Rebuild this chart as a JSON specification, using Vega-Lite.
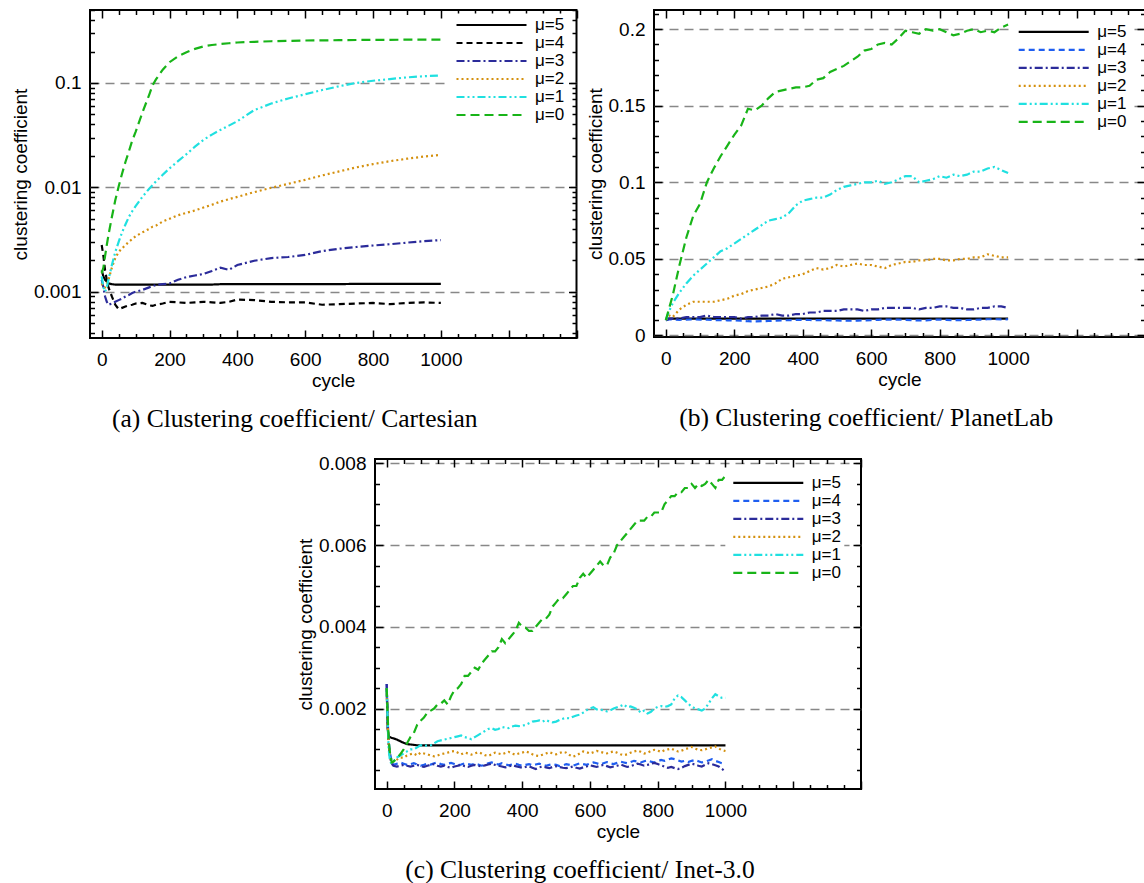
{
  "$schema": "https://vega.github.io/schema/vega-lite/v6.json",
  "padding": {"left": 10, "top": 0, "right": 0, "bottom": 0},
  "datasets": {
    "a": [
      {"c":0,"m5":0.0016,"m4":0.0028,"m3":0.0013,"m2":0.0012,"m1":0.0014,"m0":0.0015},
      {"c":5,"m5":0.0014,"m4":0.0022,"m3":0.0011,"m2":0.0011,"m1":0.0011,"m0":0.0017},
      {"c":10,"m5":0.0013,"m4":0.0016,"m3":0.0009,"m2":0.0011,"m1":0.001,"m0":0.0022},
      {"c":15,"m5":0.00125,"m4":0.0013,"m3":0.0008,"m2":0.0012,"m1":0.0011,"m0":0.0028},
      {"c":20,"m5":0.0012,"m4":0.0011,"m3":0.00075,"m2":0.0013,"m1":0.0013,"m0":0.0035},
      {"c":30,"m5":0.00118,"m4":0.0009,"m3":0.00077,"m2":0.0017,"m1":0.0018,"m0":0.0052},
      {"c":40,"m5":0.00117,"m4":0.00075,"m3":0.0008,"m2":0.0021,"m1":0.0024,"m0":0.0075},
      {"c":50,"m5":0.00117,"m4":0.00068,"m3":0.00083,"m2":0.0024,"m1":0.003,"m0":0.0102},
      {"c":60,"m5":0.00117,"m4":0.0007,"m3":0.00086,"m2":0.0026,"m1":0.0037,"m0":0.0135},
      {"c":70,"m5":0.00117,"m4":0.00072,"m3":0.0009,"m2":0.0028,"m1":0.0044,"m0":0.0175},
      {"c":80,"m5":0.00117,"m4":0.00074,"m3":0.00093,"m2":0.003,"m1":0.0052,"m0":0.022},
      {"c":90,"m5":0.00117,"m4":0.00075,"m3":0.00097,"m2":0.0032,"m1":0.0059,"m0":0.028},
      {"c":100,"m5":0.00117,"m4":0.00077,"m3":0.001,"m2":0.0034,"m1":0.0066,"m0":0.034},
      {"c":120,"m5":0.00117,"m4":0.00078,"m3":0.00104,"m2":0.0037,"m1":0.0081,"m0":0.052},
      {"c":140,"m5":0.00117,"m4":0.00074,"m3":0.0011,"m2":0.004,"m1":0.0097,"m0":0.077},
      {"c":150,"m5":0.00117,"m4":0.00073,"m3":0.00113,"m2":0.0042,"m1":0.0105,"m0":0.095},
      {"c":160,"m5":0.00117,"m4":0.00075,"m3":0.00116,"m2":0.0043,"m1":0.0114,"m0":0.108},
      {"c":180,"m5":0.00117,"m4":0.00077,"m3":0.00118,"m2":0.0047,"m1":0.0132,"m0":0.134},
      {"c":200,"m5":0.00117,"m4":0.0008,"m3":0.0012,"m2":0.005,"m1":0.0152,"m0":0.158},
      {"c":225,"m5":0.00117,"m4":0.00079,"m3":0.0013,"m2":0.0054,"m1":0.0178,"m0":0.18},
      {"c":250,"m5":0.00117,"m4":0.00078,"m3":0.00138,"m2":0.0057,"m1":0.0208,"m0":0.197},
      {"c":275,"m5":0.00117,"m4":0.00079,"m3":0.00143,"m2":0.006,"m1":0.0245,"m0":0.212},
      {"c":300,"m5":0.00117,"m4":0.0008,"m3":0.00148,"m2":0.0064,"m1":0.0285,"m0":0.224},
      {"c":325,"m5":0.00117,"m4":0.00079,"m3":0.00158,"m2":0.0068,"m1":0.032,"m0":0.231},
      {"c":350,"m5":0.00118,"m4":0.00078,"m3":0.0017,"m2":0.0073,"m1":0.0355,"m0":0.236},
      {"c":375,"m5":0.00118,"m4":0.0008,"m3":0.00162,"m2":0.0077,"m1":0.039,"m0":0.24},
      {"c":400,"m5":0.00118,"m4":0.00084,"m3":0.0018,"m2":0.0081,"m1":0.043,"m0":0.244},
      {"c":450,"m5":0.00118,"m4":0.00083,"m3":0.00198,"m2":0.009,"m1":0.055,"m0":0.248},
      {"c":500,"m5":0.00118,"m4":0.0008,"m3":0.0021,"m2":0.0099,"m1":0.0635,"m0":0.251},
      {"c":550,"m5":0.00118,"m4":0.00079,"m3":0.00215,"m2":0.0108,"m1":0.071,"m0":0.253},
      {"c":600,"m5":0.00118,"m4":0.00079,"m3":0.00225,"m2":0.0118,"m1":0.078,"m0":0.255},
      {"c":650,"m5":0.00118,"m4":0.00075,"m3":0.00245,"m2":0.013,"m1":0.0855,"m0":0.256},
      {"c":700,"m5":0.00118,"m4":0.00076,"m3":0.00258,"m2":0.0142,"m1":0.093,"m0":0.257},
      {"c":750,"m5":0.00119,"m4":0.00077,"m3":0.00268,"m2":0.0155,"m1":0.1,"m0":0.258},
      {"c":800,"m5":0.00119,"m4":0.00078,"m3":0.00277,"m2":0.0167,"m1":0.105,"m0":0.259},
      {"c":850,"m5":0.00119,"m4":0.00076,"m3":0.00285,"m2":0.0178,"m1":0.109,"m0":0.259},
      {"c":900,"m5":0.00119,"m4":0.00078,"m3":0.00295,"m2":0.0188,"m1":0.113,"m0":0.26},
      {"c":950,"m5":0.00119,"m4":0.00079,"m3":0.00305,"m2":0.0197,"m1":0.116,"m0":0.26},
      {"c":1000,"m5":0.00119,"m4":0.00078,"m3":0.00312,"m2":0.0205,"m1":0.118,"m0":0.26}
    ],
    "b": [
      {"c":0,"m5":0.011,"m4":0.010,"m3":0.010,"m2":0.010,"m1":0.010,"m0":0.010},
      {"c":10,"m5":0.011,"m4":0.0105,"m3":0.011,"m2":0.013,"m1":0.016,"m0":0.018},
      {"c":20,"m5":0.011,"m4":0.0105,"m3":0.011,"m2":0.012,"m1":0.021,"m0":0.026},
      {"c":40,"m5":0.011,"m4":0.0102,"m3":0.011,"m2":0.017,"m1":0.028,"m0":0.046},
      {"c":60,"m5":0.011,"m4":0.0104,"m3":0.012,"m2":0.020,"m1":0.034,"m0":0.064},
      {"c":80,"m5":0.011,"m4":0.0106,"m3":0.012,"m2":0.022,"m1":0.039,"m0":0.078},
      {"c":100,"m5":0.011,"m4":0.0104,"m3":0.012,"m2":0.022,"m1":0.043,"m0":0.086},
      {"c":120,"m5":0.011,"m4":0.0103,"m3":0.013,"m2":0.022,"m1":0.047,"m0":0.100},
      {"c":140,"m5":0.011,"m4":0.0101,"m3":0.012,"m2":0.022,"m1":0.051,"m0":0.109},
      {"c":160,"m5":0.011,"m4":0.0100,"m3":0.012,"m2":0.023,"m1":0.055,"m0":0.117},
      {"c":180,"m5":0.011,"m4":0.0099,"m3":0.012,"m2":0.024,"m1":0.057,"m0":0.124},
      {"c":200,"m5":0.011,"m4":0.0098,"m3":0.012,"m2":0.026,"m1":0.060,"m0":0.131},
      {"c":220,"m5":0.011,"m4":0.0096,"m3":0.011,"m2":0.027,"m1":0.063,"m0":0.137},
      {"c":240,"m5":0.011,"m4":0.0093,"m3":0.012,"m2":0.029,"m1":0.066,"m0":0.148},
      {"c":260,"m5":0.011,"m4":0.0092,"m3":0.012,"m2":0.030,"m1":0.069,"m0":0.147},
      {"c":280,"m5":0.011,"m4":0.0093,"m3":0.013,"m2":0.031,"m1":0.072,"m0":0.150},
      {"c":300,"m5":0.011,"m4":0.0095,"m3":0.013,"m2":0.032,"m1":0.075,"m0":0.155},
      {"c":320,"m5":0.011,"m4":0.0097,"m3":0.014,"m2":0.034,"m1":0.076,"m0":0.159},
      {"c":340,"m5":0.011,"m4":0.0099,"m3":0.013,"m2":0.037,"m1":0.077,"m0":0.160},
      {"c":360,"m5":0.011,"m4":0.0100,"m3":0.013,"m2":0.038,"m1":0.080,"m0":0.161},
      {"c":380,"m5":0.011,"m4":0.0102,"m3":0.014,"m2":0.039,"m1":0.085,"m0":0.162},
      {"c":400,"m5":0.011,"m4":0.0102,"m3":0.014,"m2":0.040,"m1":0.088,"m0":0.162},
      {"c":420,"m5":0.011,"m4":0.0101,"m3":0.015,"m2":0.042,"m1":0.089,"m0":0.163},
      {"c":440,"m5":0.011,"m4":0.0100,"m3":0.015,"m2":0.044,"m1":0.090,"m0":0.167},
      {"c":460,"m5":0.011,"m4":0.0100,"m3":0.016,"m2":0.043,"m1":0.090,"m0":0.168},
      {"c":480,"m5":0.011,"m4":0.0099,"m3":0.016,"m2":0.044,"m1":0.092,"m0":0.172},
      {"c":500,"m5":0.011,"m4":0.0098,"m3":0.016,"m2":0.046,"m1":0.095,"m0":0.174},
      {"c":520,"m5":0.011,"m4":0.0097,"m3":0.017,"m2":0.045,"m1":0.097,"m0":0.176},
      {"c":540,"m5":0.011,"m4":0.0096,"m3":0.017,"m2":0.046,"m1":0.098,"m0":0.179},
      {"c":560,"m5":0.011,"m4":0.0097,"m3":0.017,"m2":0.047,"m1":0.099,"m0":0.182},
      {"c":580,"m5":0.011,"m4":0.0099,"m3":0.016,"m2":0.046,"m1":0.100,"m0":0.186},
      {"c":600,"m5":0.011,"m4":0.0100,"m3":0.017,"m2":0.046,"m1":0.100,"m0":0.187},
      {"c":620,"m5":0.011,"m4":0.0102,"m3":0.017,"m2":0.045,"m1":0.101,"m0":0.190},
      {"c":640,"m5":0.011,"m4":0.0104,"m3":0.018,"m2":0.044,"m1":0.099,"m0":0.191},
      {"c":660,"m5":0.011,"m4":0.0104,"m3":0.018,"m2":0.046,"m1":0.100,"m0":0.190},
      {"c":680,"m5":0.011,"m4":0.0103,"m3":0.018,"m2":0.047,"m1":0.102,"m0":0.194},
      {"c":700,"m5":0.011,"m4":0.0102,"m3":0.018,"m2":0.048,"m1":0.104,"m0":0.199},
      {"c":720,"m5":0.011,"m4":0.0100,"m3":0.018,"m2":0.048,"m1":0.104,"m0":0.198},
      {"c":740,"m5":0.011,"m4":0.0098,"m3":0.017,"m2":0.049,"m1":0.100,"m0":0.197},
      {"c":760,"m5":0.011,"m4":0.0099,"m3":0.018,"m2":0.049,"m1":0.101,"m0":0.200},
      {"c":780,"m5":0.011,"m4":0.0102,"m3":0.018,"m2":0.050,"m1":0.102,"m0":0.199},
      {"c":800,"m5":0.011,"m4":0.0104,"m3":0.019,"m2":0.050,"m1":0.104,"m0":0.200},
      {"c":820,"m5":0.011,"m4":0.0102,"m3":0.019,"m2":0.049,"m1":0.103,"m0":0.198},
      {"c":840,"m5":0.011,"m4":0.0100,"m3":0.018,"m2":0.049,"m1":0.105,"m0":0.196},
      {"c":860,"m5":0.011,"m4":0.0100,"m3":0.018,"m2":0.050,"m1":0.104,"m0":0.197},
      {"c":880,"m5":0.011,"m4":0.0101,"m3":0.017,"m2":0.050,"m1":0.105,"m0":0.199},
      {"c":900,"m5":0.011,"m4":0.0102,"m3":0.017,"m2":0.051,"m1":0.107,"m0":0.200},
      {"c":920,"m5":0.011,"m4":0.0104,"m3":0.018,"m2":0.051,"m1":0.107,"m0":0.198},
      {"c":940,"m5":0.011,"m4":0.0106,"m3":0.018,"m2":0.053,"m1":0.109,"m0":0.199},
      {"c":960,"m5":0.011,"m4":0.0106,"m3":0.019,"m2":0.052,"m1":0.110,"m0":0.198},
      {"c":980,"m5":0.011,"m4":0.0105,"m3":0.019,"m2":0.051,"m1":0.108,"m0":0.201},
      {"c":1000,"m5":0.011,"m4":0.0106,"m3":0.018,"m2":0.051,"m1":0.106,"m0":0.203}
    ],
    "c": [
      {"c":0,"m5":0.0025,"m4":0.0026,"m3":0.0026,"m2":0.0025,"m1":0.0025,"m0":0.0025},
      {"c":3,"m5":0.0015,"m4":0.0017,"m3":0.0016,"m2":0.0016,"m1":0.0016,"m0":0.0018},
      {"c":6,"m5":0.00132,"m4":0.0012,"m3":0.0011,"m2":0.0011,"m1":0.001,"m0":0.0012},
      {"c":10,"m5":0.0013,"m4":0.0009,"m3":0.0008,"m2":0.0008,"m1":0.0007,"m0":0.0009},
      {"c":15,"m5":0.00128,"m4":0.0007,"m3":0.00065,"m2":0.00068,"m1":0.00065,"m0":0.00068},
      {"c":20,"m5":0.00127,"m4":0.00062,"m3":0.0006,"m2":0.0007,"m1":0.0007,"m0":0.0007},
      {"c":30,"m5":0.00124,"m4":0.00065,"m3":0.00058,"m2":0.00075,"m1":0.0008,"m0":0.00078},
      {"c":40,"m5":0.0012,"m4":0.00068,"m3":0.0006,"m2":0.0008,"m1":0.00085,"m0":0.00088},
      {"c":50,"m5":0.00116,"m4":0.00065,"m3":0.00062,"m2":0.0008,"m1":0.0009,"m0":0.001},
      {"c":60,"m5":0.00113,"m4":0.00062,"m3":0.0006,"m2":0.00085,"m1":0.00095,"m0":0.00115},
      {"c":70,"m5":0.00112,"m4":0.00064,"m3":0.00058,"m2":0.00088,"m1":0.001,"m0":0.0013},
      {"c":80,"m5":0.00111,"m4":0.00066,"m3":0.0006,"m2":0.0009,"m1":0.001,"m0":0.0014},
      {"c":90,"m5":0.0011,"m4":0.00063,"m3":0.00062,"m2":0.00085,"m1":0.00105,"m0":0.0016},
      {"c":100,"m5":0.0011,"m4":0.0006,"m3":0.00059,"m2":0.00092,"m1":0.0011,"m0":0.0017},
      {"c":110,"m5":0.0011,"m4":0.00062,"m3":0.00057,"m2":0.0009,"m1":0.00108,"m0":0.00178},
      {"c":120,"m5":0.0011,"m4":0.00065,"m3":0.0006,"m2":0.00088,"m1":0.0011,"m0":0.0019},
      {"c":130,"m5":0.0011,"m4":0.00063,"m3":0.00062,"m2":0.00085,"m1":0.0011,"m0":0.00195},
      {"c":140,"m5":0.0011,"m4":0.00066,"m3":0.00064,"m2":0.00083,"m1":0.00115,"m0":0.002},
      {"c":150,"m5":0.0011,"m4":0.00068,"m3":0.0006,"m2":0.00085,"m1":0.0012,"m0":0.0021},
      {"c":160,"m5":0.0011,"m4":0.00064,"m3":0.00058,"m2":0.00088,"m1":0.00122,"m0":0.00212},
      {"c":170,"m5":0.0011,"m4":0.00062,"m3":0.0006,"m2":0.0009,"m1":0.00124,"m0":0.0022},
      {"c":180,"m5":0.0011,"m4":0.00065,"m3":0.00057,"m2":0.00092,"m1":0.00126,"m0":0.0021},
      {"c":190,"m5":0.0011,"m4":0.00067,"m3":0.00055,"m2":0.00095,"m1":0.00128,"m0":0.0023},
      {"c":200,"m5":0.0011,"m4":0.00064,"m3":0.00058,"m2":0.00096,"m1":0.0013,"m0":0.00245},
      {"c":210,"m5":0.0011,"m4":0.00061,"m3":0.0006,"m2":0.00092,"m1":0.00132,"m0":0.0025},
      {"c":220,"m5":0.0011,"m4":0.00063,"m3":0.00062,"m2":0.00088,"m1":0.00134,"m0":0.0026},
      {"c":230,"m5":0.0011,"m4":0.00066,"m3":0.00059,"m2":0.00092,"m1":0.0013,"m0":0.0028},
      {"c":240,"m5":0.0011,"m4":0.00064,"m3":0.00057,"m2":0.0009,"m1":0.00128,"m0":0.0028},
      {"c":250,"m5":0.0011,"m4":0.00062,"m3":0.0006,"m2":0.00087,"m1":0.00125,"m0":0.0029},
      {"c":260,"m5":0.0011,"m4":0.00065,"m3":0.00062,"m2":0.0009,"m1":0.0013,"m0":0.003},
      {"c":270,"m5":0.0011,"m4":0.00063,"m3":0.0006,"m2":0.00093,"m1":0.00135,"m0":0.00295},
      {"c":280,"m5":0.0011,"m4":0.0006,"m3":0.00058,"m2":0.0009,"m1":0.0014,"m0":0.0031},
      {"c":290,"m5":0.0011,"m4":0.00062,"m3":0.00061,"m2":0.00086,"m1":0.00145,"m0":0.0032},
      {"c":300,"m5":0.0011,"m4":0.00066,"m3":0.00063,"m2":0.00084,"m1":0.0015,"m0":0.0033},
      {"c":310,"m5":0.0011,"m4":0.00068,"m3":0.00065,"m2":0.00088,"m1":0.00152,"m0":0.0034},
      {"c":320,"m5":0.0011,"m4":0.00065,"m3":0.00062,"m2":0.00092,"m1":0.00148,"m0":0.0034},
      {"c":330,"m5":0.0011,"m4":0.00063,"m3":0.0006,"m2":0.0009,"m1":0.0015,"m0":0.0035},
      {"c":340,"m5":0.0011,"m4":0.00066,"m3":0.00058,"m2":0.00088,"m1":0.00155,"m0":0.0037},
      {"c":350,"m5":0.0011,"m4":0.00064,"m3":0.00056,"m2":0.00091,"m1":0.00153,"m0":0.0036},
      {"c":360,"m5":0.0011,"m4":0.00061,"m3":0.00058,"m2":0.00094,"m1":0.00152,"m0":0.0037},
      {"c":370,"m5":0.0011,"m4":0.00063,"m3":0.00061,"m2":0.0009,"m1":0.00156,"m0":0.0038},
      {"c":380,"m5":0.0011,"m4":0.00065,"m3":0.00059,"m2":0.00087,"m1":0.00158,"m0":0.0039},
      {"c":390,"m5":0.0011,"m4":0.00062,"m3":0.00057,"m2":0.0009,"m1":0.00157,"m0":0.0041},
      {"c":400,"m5":0.0011,"m4":0.0006,"m3":0.00055,"m2":0.00092,"m1":0.00158,"m0":0.004},
      {"c":410,"m5":0.0011,"m4":0.00062,"m3":0.00057,"m2":0.00095,"m1":0.0016,"m0":0.00398},
      {"c":420,"m5":0.0011,"m4":0.00064,"m3":0.00059,"m2":0.00092,"m1":0.00164,"m0":0.0039},
      {"c":430,"m5":0.0011,"m4":0.00061,"m3":0.00055,"m2":0.00088,"m1":0.00168,"m0":0.0039},
      {"c":440,"m5":0.0011,"m4":0.00063,"m3":0.00052,"m2":0.00085,"m1":0.00169,"m0":0.004},
      {"c":450,"m5":0.0011,"m4":0.00065,"m3":0.00056,"m2":0.00084,"m1":0.00171,"m0":0.0041},
      {"c":460,"m5":0.0011,"m4":0.00062,"m3":0.00058,"m2":0.00087,"m1":0.00168,"m0":0.0042},
      {"c":470,"m5":0.0011,"m4":0.0006,"m3":0.00056,"m2":0.0009,"m1":0.00172,"m0":0.0042},
      {"c":480,"m5":0.0011,"m4":0.00062,"m3":0.00054,"m2":0.00093,"m1":0.00168,"m0":0.0043},
      {"c":490,"m5":0.0011,"m4":0.00064,"m3":0.00057,"m2":0.0009,"m1":0.00166,"m0":0.0045},
      {"c":500,"m5":0.0011,"m4":0.00062,"m3":0.00059,"m2":0.00088,"m1":0.00168,"m0":0.0046},
      {"c":510,"m5":0.0011,"m4":0.00059,"m3":0.00057,"m2":0.00091,"m1":0.00172,"m0":0.0047},
      {"c":520,"m5":0.0011,"m4":0.00061,"m3":0.00055,"m2":0.00094,"m1":0.00175,"m0":0.0047},
      {"c":530,"m5":0.0011,"m4":0.00064,"m3":0.00054,"m2":0.00092,"m1":0.00177,"m0":0.0048},
      {"c":540,"m5":0.0011,"m4":0.00062,"m3":0.00056,"m2":0.00086,"m1":0.00176,"m0":0.0049},
      {"c":550,"m5":0.0011,"m4":0.0006,"m3":0.00058,"m2":0.00082,"m1":0.0018,"m0":0.005},
      {"c":560,"m5":0.0011,"m4":0.00063,"m3":0.00055,"m2":0.00085,"m1":0.00183,"m0":0.005},
      {"c":570,"m5":0.0011,"m4":0.00066,"m3":0.00053,"m2":0.0009,"m1":0.00185,"m0":0.0052},
      {"c":580,"m5":0.0011,"m4":0.00064,"m3":0.00056,"m2":0.00095,"m1":0.0019,"m0":0.0053},
      {"c":590,"m5":0.0011,"m4":0.00062,"m3":0.00058,"m2":0.00093,"m1":0.00196,"m0":0.0052},
      {"c":600,"m5":0.0011,"m4":0.00065,"m3":0.00061,"m2":0.0009,"m1":0.002,"m0":0.0053},
      {"c":610,"m5":0.0011,"m4":0.00068,"m3":0.00059,"m2":0.00093,"m1":0.00203,"m0":0.0054},
      {"c":620,"m5":0.0011,"m4":0.00066,"m3":0.00057,"m2":0.00096,"m1":0.00198,"m0":0.0055},
      {"c":630,"m5":0.0011,"m4":0.00063,"m3":0.0006,"m2":0.00094,"m1":0.00197,"m0":0.0056},
      {"c":640,"m5":0.0011,"m4":0.00066,"m3":0.00062,"m2":0.00092,"m1":0.00196,"m0":0.0055},
      {"c":650,"m5":0.0011,"m4":0.00069,"m3":0.00059,"m2":0.0009,"m1":0.00193,"m0":0.0055},
      {"c":660,"m5":0.0011,"m4":0.00066,"m3":0.00056,"m2":0.00093,"m1":0.00196,"m0":0.0057},
      {"c":670,"m5":0.0011,"m4":0.00064,"m3":0.00058,"m2":0.00095,"m1":0.002,"m0":0.0058},
      {"c":680,"m5":0.0011,"m4":0.00067,"m3":0.0006,"m2":0.00092,"m1":0.00203,"m0":0.006},
      {"c":690,"m5":0.0011,"m4":0.0007,"m3":0.00063,"m2":0.00088,"m1":0.00206,"m0":0.0061},
      {"c":700,"m5":0.0011,"m4":0.00068,"m3":0.0006,"m2":0.00086,"m1":0.0021,"m0":0.0062},
      {"c":710,"m5":0.0011,"m4":0.00066,"m3":0.00057,"m2":0.00088,"m1":0.00203,"m0":0.0063},
      {"c":720,"m5":0.0011,"m4":0.00069,"m3":0.00059,"m2":0.00092,"m1":0.00205,"m0":0.0064},
      {"c":730,"m5":0.0011,"m4":0.00072,"m3":0.00062,"m2":0.00095,"m1":0.00202,"m0":0.0065},
      {"c":740,"m5":0.0011,"m4":0.0007,"m3":0.00065,"m2":0.00097,"m1":0.00198,"m0":0.0066},
      {"c":750,"m5":0.0011,"m4":0.00068,"m3":0.00063,"m2":0.00094,"m1":0.0019,"m0":0.0066},
      {"c":760,"m5":0.0011,"m4":0.00071,"m3":0.0006,"m2":0.0009,"m1":0.00195,"m0":0.0066},
      {"c":770,"m5":0.0011,"m4":0.00073,"m3":0.00062,"m2":0.00092,"m1":0.00188,"m0":0.0067},
      {"c":780,"m5":0.0011,"m4":0.0007,"m3":0.00065,"m2":0.00096,"m1":0.00192,"m0":0.0067},
      {"c":790,"m5":0.0011,"m4":0.00068,"m3":0.00067,"m2":0.00099,"m1":0.002,"m0":0.0068},
      {"c":800,"m5":0.0011,"m4":0.00071,"m3":0.00064,"m2":0.00097,"m1":0.00204,"m0":0.0068},
      {"c":810,"m5":0.0011,"m4":0.00074,"m3":0.00061,"m2":0.00094,"m1":0.00206,"m0":0.0068},
      {"c":820,"m5":0.0011,"m4":0.00072,"m3":0.00058,"m2":0.00098,"m1":0.00204,"m0":0.007},
      {"c":830,"m5":0.0011,"m4":0.00075,"m3":0.00055,"m2":0.001,"m1":0.00206,"m0":0.0071},
      {"c":840,"m5":0.0011,"m4":0.00078,"m3":0.00057,"m2":0.00102,"m1":0.0021,"m0":0.0072},
      {"c":850,"m5":0.0011,"m4":0.00076,"m3":0.00054,"m2":0.00098,"m1":0.00225,"m0":0.0072},
      {"c":860,"m5":0.0011,"m4":0.00073,"m3":0.00052,"m2":0.00095,"m1":0.00232,"m0":0.0073},
      {"c":870,"m5":0.0011,"m4":0.0007,"m3":0.00055,"m2":0.00097,"m1":0.00228,"m0":0.0073},
      {"c":880,"m5":0.0011,"m4":0.00072,"m3":0.00059,"m2":0.001,"m1":0.0022,"m0":0.0074},
      {"c":890,"m5":0.0011,"m4":0.00069,"m3":0.00062,"m2":0.00103,"m1":0.00212,"m0":0.0074},
      {"c":900,"m5":0.0011,"m4":0.00072,"m3":0.00065,"m2":0.00106,"m1":0.00205,"m0":0.0075},
      {"c":910,"m5":0.0011,"m4":0.00074,"m3":0.00063,"m2":0.00102,"m1":0.002,"m0":0.0074},
      {"c":920,"m5":0.0011,"m4":0.00071,"m3":0.0006,"m2":0.00099,"m1":0.00198,"m0":0.0075},
      {"c":930,"m5":0.0011,"m4":0.00068,"m3":0.00058,"m2":0.00098,"m1":0.00195,"m0":0.00745},
      {"c":940,"m5":0.0011,"m4":0.0007,"m3":0.00062,"m2":0.001,"m1":0.002,"m0":0.0075},
      {"c":950,"m5":0.0011,"m4":0.00073,"m3":0.00066,"m2":0.00103,"m1":0.00212,"m0":0.0076},
      {"c":960,"m5":0.0011,"m4":0.00076,"m3":0.00064,"m2":0.00105,"m1":0.00225,"m0":0.0075},
      {"c":970,"m5":0.0011,"m4":0.00072,"m3":0.00061,"m2":0.00107,"m1":0.00235,"m0":0.0074},
      {"c":980,"m5":0.0011,"m4":0.00069,"m3":0.00058,"m2":0.00102,"m1":0.0023,"m0":0.0076},
      {"c":990,"m5":0.0011,"m4":0.00066,"m3":0.00052,"m2":0.00098,"m1":0.00226,"m0":0.0076},
      {"c":1000,"m5":0.0011,"m4":0.00063,"m3":0.00045,"m2":0.00096,"m1":0.00226,"m0":0.0077}
    ]
  },
  "spacing": 19,
  "resolve": {"scale": {"color": "independent", "strokeDash": "independent"}},
  "vconcat": [
    {
      "spacing": 6,
      "resolve": {"scale": {"color": "independent", "strokeDash": "independent"}},
      "hconcat": [
        {
          "width": 486.5,
          "height": 328,
          "data": {"name": "a"},
          "transform": [{"fold": ["m5", "m4", "m3", "m2", "m1", "m0"], "as": ["mu", "v"]}],
          "title": {"text": "(a) Clustering coefficient/ Cartesian", "dx": -38.5},
          "layer": [
            {
              "mark": {"type": "line", "strokeWidth": 2.2},
              "encoding": {
                "x": {"field": "c", "type": "quantitative", "scale": {"domain": [-34.5, 1400], "nice": false, "zero": false},
                  "axis": {"orient": "bottom", "title": "cycle", "values": [0,50,100,150,200,250,300,350,400,450,500,550,600,650,700,750,800,850,900,950,1000,1050,1100,1150,1200,1250,1300,1350,1400], "format": "d",
                    "labelExpr": "datum.value % 200 == 0 && datum.value <= 1000 ? datum.label : ''",
                    "tickDash": {"condition": {"test": "datum.value % 200 == 0", "value": [8, 0]}, "value": [4.5, 30]},
                    "grid": false, "labelPadding": 20, "titlePadding": 2}},
                "y": {"field": "v", "type": "quantitative", "scale": {"type": "log", "domain": [0.00036, 0.5], "nice": false},
                  "axis": {"orient": "left", "title": "clustering coefficient", "values": [0.0004,0.0005,0.0006,0.0007,0.0008,0.0009,0.001,0.002,0.003,0.004,0.005,0.006,0.007,0.008,0.009,0.01,0.02,0.03,0.04,0.05,0.06,0.07,0.08,0.09,0.1,0.2,0.3,0.4,0.5], "format": "~g",
                    "labelExpr": "abs(log(datum.value)/LN10 - round(log(datum.value)/LN10)) < 0.001 ? datum.label : ''",
                    "tickDash": {"condition": {"test": "abs(log(datum.value)/LN10 - round(log(datum.value)/LN10)) < 0.001", "value": [8, 0]}, "value": [4.5, 30]},
                    "grid": true,
                    "gridOpacity": {"condition": {"test": "abs(log(datum.value)/LN10 - round(log(datum.value)/LN10)) < 0.001", "value": 1}, "value": 0},
                    "labelPadding": 17, "titlePadding": 3}},
                "color": {"field": "mu", "type": "nominal",
                  "scale": {"domain": ["m5", "m4", "m3", "m2", "m1", "m0"], "range": ["#000000", "#000000", "#2b2b9a", "#d4900e", "#20e0e0", "#18b418"]},
                  "legend": {"orient": "none", "legendX": 358.5, "legendY": 3.5, "labelExpr": "'μ=' + substring(datum.label, 1)"}},
                "strokeDash": {"field": "mu", "type": "nominal",
                  "scale": {"domain": ["m5", "m4", "m3", "m2", "m1", "m0"], "range": [[1, 0], [6, 4], [8, 3, 2, 3], [2, 3], [8, 3, 2, 3, 2, 3], [9, 5]]},
                  "legend": {"orient": "none", "legendX": 358.5, "legendY": 3.5, "labelExpr": "'μ=' + substring(datum.label, 1)"}}
              }
            },
            {
              "mark": {"type": "line", "opacity": 0},
              "encoding": {
                "x": {"field": "c", "type": "quantitative",
                  "axis": {"orient": "top", "title": null, "labels": false, "values": [0,50,100,150,200,250,300,350,400,450,500,550,600,650,700,750,800,850,900,950,1000,1050,1100,1150,1200,1250,1300,1350,1400],
                    "tickDash": {"condition": {"test": "datum.value % 200 == 0", "value": [8, 0]}, "value": [4.5, 30]}, "grid": false}},
                "y": {"field": "v", "type": "quantitative",
                  "axis": {"orient": "right", "title": null, "labels": false, "values": [0.0004,0.0005,0.0006,0.0007,0.0008,0.0009,0.001,0.002,0.003,0.004,0.005,0.006,0.007,0.008,0.009,0.01,0.02,0.03,0.04,0.05,0.06,0.07,0.08,0.09,0.1,0.2,0.3,0.4,0.5],
                    "tickDash": {"condition": {"test": "abs(log(datum.value)/LN10 - round(log(datum.value)/LN10)) < 0.001", "value": [8, 0]}, "value": [4.5, 30]}, "grid": false}}
              }
            }
          ],
          "resolve": {"axis": {"x": "independent", "y": "independent"}}
        },
        {
          "width": 491,
          "height": 327,
          "data": {"name": "b"},
          "transform": [{"fold": ["m5", "m4", "m3", "m2", "m1", "m0"], "as": ["mu", "v"]}],
          "title": {"text": "(b) Clustering coefficient/ PlanetLab", "dx": -33.3},
          "layer": [
            {
              "mark": {"type": "line", "strokeWidth": 2.2},
              "encoding": {
                "x": {"field": "c", "type": "quantitative", "scale": {"domain": [-34.5, 1400], "nice": false, "zero": false},
                  "axis": {"orient": "bottom", "title": "cycle", "values": [0,50,100,150,200,250,300,350,400,450,500,550,600,650,700,750,800,850,900,950,1000,1050,1100,1150,1200,1250,1300,1350,1400], "format": "d",
                    "labelExpr": "datum.value % 200 == 0 && datum.value <= 1000 ? datum.label : ''",
                    "tickDash": {"condition": {"test": "datum.value % 200 == 0", "value": [8, 0]}, "value": [4.5, 30]},
                    "grid": false, "labelPadding": 20, "titlePadding": 2}},
                "y": {"field": "v", "type": "quantitative", "scale": {"domain": [-0.001, 0.2125], "nice": false, "zero": false},
                  "axis": {"orient": "left", "title": "clustering coefficient", "values": [0,0.01,0.02,0.03,0.04,0.05,0.06,0.07,0.08,0.09,0.1,0.11,0.12,0.13,0.14,0.15,0.16,0.17,0.18,0.19,0.2,0.21], "format": "~g",
                    "labelExpr": "abs(datum.value*20 - round(datum.value*20)) < 0.001 ? datum.label : ''",
                    "tickDash": {"condition": {"test": "abs(datum.value*20 - round(datum.value*20)) < 0.001", "value": [8, 0]}, "value": [4.5, 30]},
                    "grid": true,
                    "gridOpacity": {"condition": {"test": "abs(datum.value*20 - round(datum.value*20)) < 0.001", "value": 1}, "value": 0},
                    "labelPadding": 17, "titlePadding": 3}},
                "color": {"field": "mu", "type": "nominal",
                  "scale": {"domain": ["m5", "m4", "m3", "m2", "m1", "m0"], "range": ["#000000", "#1f5ef0", "#2b2b9a", "#d4900e", "#20e0e0", "#18b418"]},
                  "legend": {"orient": "none", "legendX": 356.7, "legendY": 10.3, "labelExpr": "'μ=' + substring(datum.label, 1)"}},
                "strokeDash": {"field": "mu", "type": "nominal",
                  "scale": {"domain": ["m5", "m4", "m3", "m2", "m1", "m0"], "range": [[1, 0], [6, 4], [8, 3, 2, 3], [2, 3], [8, 3, 2, 3, 2, 3], [9, 5]]},
                  "legend": {"orient": "none", "legendX": 356.7, "legendY": 10.3, "labelExpr": "'μ=' + substring(datum.label, 1)"}}
              }
            },
            {
              "mark": {"type": "line", "opacity": 0},
              "encoding": {
                "x": {"field": "c", "type": "quantitative",
                  "axis": {"orient": "top", "title": null, "labels": false, "values": [0,50,100,150,200,250,300,350,400,450,500,550,600,650,700,750,800,850,900,950,1000,1050,1100,1150,1200,1250,1300,1350,1400],
                    "tickDash": {"condition": {"test": "datum.value % 200 == 0", "value": [8, 0]}, "value": [4.5, 30]}, "grid": false}},
                "y": {"field": "v", "type": "quantitative",
                  "axis": {"orient": "right", "title": null, "labels": false, "values": [0,0.01,0.02,0.03,0.04,0.05,0.06,0.07,0.08,0.09,0.1,0.11,0.12,0.13,0.14,0.15,0.16,0.17,0.18,0.19,0.2,0.21],
                    "tickDash": {"condition": {"test": "abs(datum.value*20 - round(datum.value*20)) < 0.001", "value": [8, 0]}, "value": [4.5, 30]}, "grid": false}}
              }
            }
          ],
          "resolve": {"axis": {"x": "independent", "y": "independent"}}
        }
      ]
    },
    {
      "spacing": 0,
      "resolve": {"scale": {"color": "independent", "strokeDash": "independent"}},
      "hconcat": [
        {
          "width": 205,
          "height": 10,
          "data": {"values": []},
          "mark": {"type": "text"},
          "encoding": {},
          "view": {"stroke": null}
        },
        {
          "width": 486,
          "height": 330,
          "data": {"name": "c"},
          "transform": [{"fold": ["m5", "m4", "m3", "m2", "m1", "m0"], "as": ["mu", "v"]}],
          "title": {"text": "(c) Clustering coefficient/ Inet-3.0", "dx": -38},
          "layer": [
            {
              "mark": {"type": "line", "strokeWidth": 2.2},
              "encoding": {
                "x": {"field": "c", "type": "quantitative", "scale": {"domain": [-34.5, 1400], "nice": false, "zero": false},
                  "axis": {"orient": "bottom", "title": "cycle", "values": [0,50,100,150,200,250,300,350,400,450,500,550,600,650,700,750,800,850,900,950,1000,1050,1100,1150,1200,1250,1300,1350,1400], "format": "d",
                    "labelExpr": "datum.value % 200 == 0 && datum.value <= 1000 ? datum.label : ''",
                    "tickDash": {"condition": {"test": "datum.value % 200 == 0", "value": [8, 0]}, "value": [4.5, 30]},
                    "grid": false, "labelPadding": 20, "titlePadding": 2}},
                "y": {"field": "v", "type": "quantitative", "scale": {"domain": [0.00003, 0.00811], "nice": false, "zero": false},
                  "axis": {"orient": "left", "title": "clustering coefficient", "values": [0.0005,0.001,0.0015,0.002,0.0025,0.003,0.0035,0.004,0.0045,0.005,0.0055,0.006,0.0065,0.007,0.0075,0.008], "format": "~g",
                    "labelExpr": "abs(datum.value*500 - round(datum.value*500)) < 0.001 ? datum.label : ''",
                    "tickDash": {"condition": {"test": "abs(datum.value*500 - round(datum.value*500)) < 0.001", "value": [8, 0]}, "value": [4.5, 30]},
                    "grid": true,
                    "gridOpacity": {"condition": {"test": "abs(datum.value*500 - round(datum.value*500)) < 0.001", "value": 1}, "value": 0},
                    "labelPadding": 17, "titlePadding": 3}},
                "color": {"field": "mu", "type": "nominal",
                  "scale": {"domain": ["m5", "m4", "m3", "m2", "m1", "m0"], "range": ["#000000", "#1f5ef0", "#2b2b9a", "#d4900e", "#20e0e0", "#18b418"]},
                  "legend": {"orient": "none", "legendX": 350.3, "legendY": 12.3, "labelExpr": "'μ=' + substring(datum.label, 1)"}},
                "strokeDash": {"field": "mu", "type": "nominal",
                  "scale": {"domain": ["m5", "m4", "m3", "m2", "m1", "m0"], "range": [[1, 0], [6, 4], [8, 3, 2, 3], [2, 3], [8, 3, 2, 3, 2, 3], [9, 5]]},
                  "legend": {"orient": "none", "legendX": 350.3, "legendY": 12.3, "labelExpr": "'μ=' + substring(datum.label, 1)"}}
              }
            },
            {
              "mark": {"type": "line", "opacity": 0},
              "encoding": {
                "x": {"field": "c", "type": "quantitative",
                  "axis": {"orient": "top", "title": null, "labels": false, "values": [0,50,100,150,200,250,300,350,400,450,500,550,600,650,700,750,800,850,900,950,1000,1050,1100,1150,1200,1250,1300,1350,1400],
                    "tickDash": {"condition": {"test": "datum.value % 200 == 0", "value": [8, 0]}, "value": [4.5, 30]}, "grid": false}},
                "y": {"field": "v", "type": "quantitative",
                  "axis": {"orient": "right", "title": null, "labels": false, "values": [0.0005,0.001,0.0015,0.002,0.0025,0.003,0.0035,0.004,0.0045,0.005,0.0055,0.006,0.0065,0.007,0.0075,0.008],
                    "tickDash": {"condition": {"test": "abs(datum.value*500 - round(datum.value*500)) < 0.001", "value": [8, 0]}, "value": [4.5, 30]}, "grid": false}}
              }
            }
          ],
          "resolve": {"axis": {"x": "independent", "y": "independent"}}
        }
      ]
    }
  ],
  "config": {
    "view": {"stroke": "black", "strokeWidth": 2},
    "axis": {
      "domain": false,
      "tickSize": -8,
      "tickWidth": 1.5,
      "tickColor": "black",
      "labelFont": "Liberation Sans",
      "labelFontSize": 19,
      "labelColor": "black",
      "labelOverlap": false,
      "labelFlush": false,
      "titleFont": "Liberation Sans",
      "titleFontSize": 19,
      "titleFontWeight": "normal",
      "titleColor": "black",
      "gridColor": "#888888",
      "gridDash": [9, 6],
      "gridWidth": 1.3
    },
    "legend": {
      "title": null,
      "symbolType": "M-1,0H19",
      "symbolSize": 49,
      "symbolStrokeWidth": 2.2,
      "labelOffset": 66.5,
      "rowPadding": 0,
      "padding": 3,
      "fillColor": "white",
      "labelFont": "Liberation Sans",
      "labelFontSize": 17,
      "labelColor": "black"
    },
    "title": {
      "font": "Liberation Serif",
      "fontSize": 25.5,
      "fontWeight": "normal",
      "color": "black",
      "orient": "bottom",
      "anchor": "middle",
      "frame": "group",
      "offset": 17
    }
  }
}
